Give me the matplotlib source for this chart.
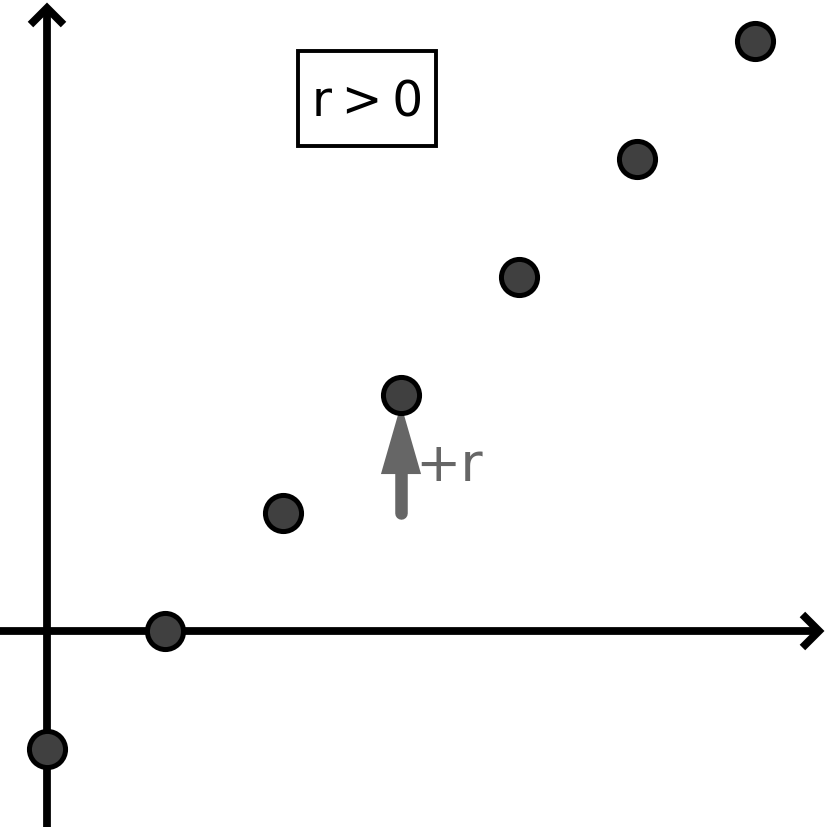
import matplotlib
matplotlib.use("Agg")
import matplotlib.pyplot as plt
from matplotlib.patches import Rectangle

# points along a line with positive slope
xs = [0, 1, 2, 3, 4, 5, 6]
ys = [-1, 0, 1, 2, 3, 4, 5]

label_box = "r\u2009>\u20090"
label_arrow = "+r"
arrow_from = (3, 1)
arrow_to = (3, 2)

gray = "#666666"
fig = plt.figure(figsize=(8.28, 8.28), dpi=100)
ax = fig.add_axes([0, 0, 1, 1])
unit = 118.0
xmin, xmax = -47 / unit, 781 / unit
ymin, ymax = -196 / unit, 632 / unit
ax.set_xlim(xmin, xmax)
ax.set_ylim(ymin, ymax)
ax.axis("off")

axis_style = dict(arrowstyle="->,head_length=0.85,head_width=0.85", lw=5.6,
                  color="black", shrinkA=0, shrinkB=0, joinstyle="miter",
                  capstyle="butt", mutation_scale=14)
ax.annotate("", xy=(xmax - 0.03, 0), xytext=(xmin, 0), arrowprops=axis_style)
ax.annotate("", xy=(0, ymax - 0.03), xytext=(0, ymin), arrowprops=axis_style)

# +r arrow: shaft with rounded end, then triangular head
base = arrow_from[1] + 0.33
ax.plot([arrow_from[0], arrow_from[0]], [arrow_from[1], base + 0.02],
        color=gray, lw=9, solid_capstyle="round", zorder=3)
ax.arrow(arrow_from[0], base, 0, arrow_to[1] - 0.08 - base, width=0.001,
         head_width=0.34, head_length=arrow_to[1] - 0.08 - base,
         length_includes_head=True, color=gray, lw=0, zorder=3)
ax.text(arrow_from[0] + 0.41, arrow_from[1] + 0.41, label_arrow, color=gray,
        fontsize=39, ha="center", va="center")

ax.plot(xs, ys, "o", ms=26, mfc="#404040", mec="black", mew=3.6, zorder=5,
        clip_on=False)

# label box
bx, by = 2.71, 4.51
bw, bh = 1.17, 0.805
ax.add_patch(Rectangle((bx - bw / 2, by - bh / 2), bw, bh, fc="white",
                       ec="black", lw=2.8, zorder=4))
ax.text(bx + 0.01, by - 0.02, label_box, fontsize=35, ha="center", va="center",
        zorder=6)

fig.savefig("out.png", dpi=100)
